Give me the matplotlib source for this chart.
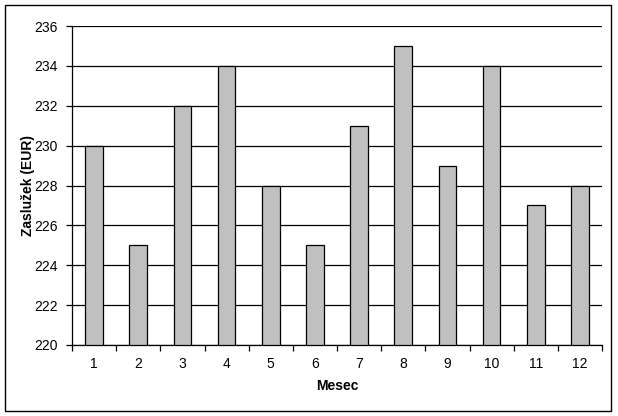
import numpy as np
import matplotlib.pyplot as plt
from matplotlib.patches import Rectangle

plt.rcParams['font.family'] = ['Liberation Sans', 'DejaVu Sans']

# data
months = [1, 2, 3, 4, 5, 6, 7, 8, 9, 10, 11, 12]
earnings = [230, 225, 232, 234, 228, 225, 231, 235, 229, 234, 227, 228]
yticks = [220, 222, 224, 226, 228, 230, 232, 234, 236]

W, H = 618, 416
fig = plt.figure(figsize=(W/100, H/100), dpi=100)

# outer chart border
fig.patches.append(Rectangle((5/W, 1-411/H), 606/W, 406/H, transform=fig.transFigure,
                             fill=False, edgecolor="k", linewidth=1.0))

ax = fig.add_axes([72/W, 1-345/H, (602-72)/W, (345-26)/H])

ax.bar(months, [e - yticks[0] for e in earnings], bottom=yticks[0], width=0.4,
       color="#C0C0C0", edgecolor="k", linewidth=0.9, zorder=3)

ax.set_ylim(yticks[0], yticks[-1])
ax.set_xlim(0.5, 12.5)
ax.set_yticks(yticks)
ax.yaxis.grid(True, color="k", linewidth=0.9, zorder=0)
ax.set_axisbelow(True)

# ticks between categories, labels centred
ax.set_xticks(np.arange(0.5, 13, 1))
ax.set_xticklabels([])
ax.set_xticks(months, minor=True)
ax.set_xticklabels([str(m) for m in months], minor=True)
ax.tick_params(axis="x", which="major", direction="out", length=4, width=0.9)
ax.tick_params(axis="x", which="minor", length=0, pad=9, labelsize=10)
ax.tick_params(axis="y", direction="out", length=4, width=0.9, pad=6, labelsize=10)

ax.spines["top"].set_visible(False)
ax.spines["right"].set_visible(False)
ax.spines["left"].set_linewidth(0.9)
ax.spines["bottom"].set_linewidth(0.9)

fig.text(28/W, 1-186/H, "Zaslužek (EUR)", rotation=90, ha="center", va="center",
         fontsize=10, fontweight="bold")
fig.text(337/W, 1-386/H, "Mesec", ha="center", va="center", fontsize=10, fontweight="bold")

plt.savefig("out.png", dpi=100, facecolor="w")
plt.close(fig)
